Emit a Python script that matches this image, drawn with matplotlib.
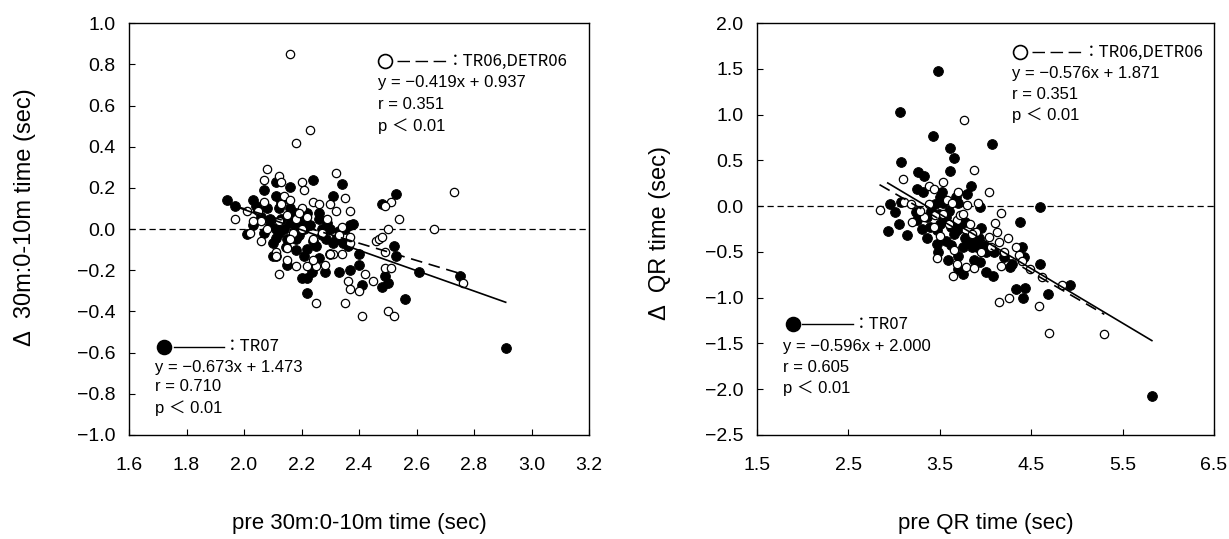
import matplotlib.pyplot as plt
import numpy as np

# ---- data ----
# left panel: pre 30m:0-10m time vs change
left_tr06_x = [2.16, 2.23, 2.18, 2.08, 2.07, 2.12, 2.13, 2.20, 2.21, 2.32, 2.35, 2.30, 2.24, 2.14,
               2.16, 2.20, 2.32, 2.37, 2.07, 2.01, 1.97, 2.06, 2.06, 2.11, 2.12, 2.18, 2.22, 2.25,
               2.28, 2.25, 2.35, 2.36, 2.37, 2.40, 2.42, 2.41, 2.45, 2.50, 2.52, 2.49, 2.51, 2.49,
               2.46, 2.47, 2.48, 2.50, 2.54, 2.51, 2.49, 2.73, 2.66, 2.76, 2.37, 2.37, 2.31, 2.34,
               2.30, 2.24, 2.15, 2.11, 2.03, 2.02, 2.20, 2.24, 2.27, 2.34, 2.17, 2.16, 2.18, 2.15,
               2.13, 2.05, 2.12, 2.19, 2.26, 2.29, 2.33, 2.22, 2.08, 2.15]
left_tr06_y = [0.85, 0.48, 0.42, 0.29, 0.24, 0.26, 0.23, 0.23, 0.19, 0.27, 0.15, 0.12, 0.13, 0.16,
               0.14, 0.10, 0.09, 0.09, 0.13, 0.09, 0.05, 0.04, -0.06, -0.11, -0.22, -0.18, -0.18, -0.18,
               -0.175, -0.36, -0.36, -0.25, -0.29, -0.30, -0.22, -0.42, -0.25, -0.40, -0.42, -0.19, -0.19, -0.11,
               -0.06, -0.05, -0.04, 0.0, 0.05, 0.13, 0.11, 0.18, 0.0, -0.26, -0.07, -0.04, -0.12, -0.12,
               -0.12, -0.15, -0.15, -0.13, 0.04, -0.02, 0.0, -0.05, -0.02, 0.01, -0.02, -0.05, 0.05, 0.07,
               0.12, 0.09, 0.04, 0.08, 0.12, 0.05, -0.03, 0.06, 0.0, -0.09]
left_tr07_x = [1.94, 1.97, 2.03, 2.04, 2.05, 2.01, 2.03, 2.07, 2.11, 2.16, 2.24, 2.34, 2.31, 2.11,
               2.08, 2.12, 2.16, 2.18, 2.22, 2.26, 2.26, 2.09, 2.13, 2.16, 2.18, 2.21, 2.27, 2.30,
               2.33, 2.37, 2.38, 2.07, 2.11, 2.11, 2.145, 2.18, 2.22, 2.25, 2.285, 2.32, 2.345, 2.36,
               2.30, 2.40, 2.40, 2.41, 2.37, 2.33, 2.28, 2.235, 2.20, 2.22, 2.22, 2.15, 2.10, 2.11,
               2.48, 2.53, 2.52, 2.53, 2.49, 2.50, 2.48, 2.56, 2.61, 2.75, 2.91,
               2.09, 2.12, 2.14, 2.17, 2.19, 2.20, 2.23, 2.24, 2.27, 2.29, 2.13, 2.15, 2.06, 2.10,
               2.18, 2.31, 2.35, 2.21, 2.26]
left_tr07_y = [0.14, 0.11, 0.14, 0.11, 0.095, -0.025, 0.02, 0.19, 0.23, 0.205, 0.24, 0.22, 0.16, 0.16,
               0.10, 0.10, 0.10, 0.08, 0.08, 0.08, 0.05, 0.05, 0.05, 0.03, 0.01, 0.0, 0.0, 0.0,
               -0.01, 0.02, 0.025, -0.02, 0.0, -0.045, -0.085, -0.05, -0.095, -0.08, -0.05, -0.05, -0.07, -0.08,
               -0.12, -0.12, -0.175, -0.27, -0.20, -0.21, -0.21, -0.21, -0.24, -0.24, -0.31, -0.175, -0.13, -0.13,
               0.12, 0.17, -0.08, -0.13, -0.23, -0.26, -0.28, -0.34, -0.21, -0.23, -0.58,
               0.02, -0.02, 0.0, 0.06, -0.03, 0.04, 0.02, -0.06, -0.03, 0.03, 0.13, -0.05, 0.06, -0.07,
               -0.10, -0.07, 0.0, -0.13, -0.14]

# right panel: pre QR time vs change
right_tr06_x = [3.76, 3.87, 3.10, 3.54, 3.38, 3.44, 4.04, 2.84, 3.11, 3.18, 3.38, 3.58, 3.63, 3.80,
                3.92, 4.17, 3.19, 3.44, 3.69, 3.83, 4.13, 4.04, 4.15, 4.33, 4.20, 4.37, 3.47, 3.69,
                3.79, 3.87, 3.64, 4.17, 4.49, 4.62, 4.84, 4.15, 4.26, 4.59, 4.69, 5.30, 3.33, 3.54,
                3.72, 3.90, 4.06, 3.45, 3.60, 3.75, 3.85, 3.95, 3.65, 3.50, 3.28, 3.70, 4.10, 4.25, 4.40]
right_tr06_y = [0.94, 0.40, 0.30, 0.26, 0.22, 0.19, 0.16, -0.04, 0.05, 0.02, 0.02, 0.07, 0.03, 0.01,
                0.03, -0.07, -0.17, -0.23, -0.15, -0.20, -0.28, -0.34, -0.39, -0.45, -0.50, -0.53, -0.57, -0.63,
                -0.66, -0.68, -0.76, -0.65, -0.69, -0.77, -0.86, -1.05, -1.00, -1.09, -1.39, -1.40, -0.12, -0.08,
                -0.10, -0.28, -0.45, -0.10, -0.20, -0.08, -0.30, -0.50, -0.48, -0.33, -0.05, 0.15, -0.18, -0.35, -0.60]
right_tr07_x = [3.48, 3.06, 3.42, 3.61, 3.65, 4.07, 3.07, 3.61, 3.26, 3.33, 3.84, 3.80, 3.25, 3.32,
                3.50, 3.54, 3.70, 3.94, 4.60, 2.96, 3.07, 3.01, 3.05, 2.93, 3.14, 3.24, 3.25, 3.36,
                3.39, 3.36, 3.47, 3.49, 3.57, 3.62, 3.69, 3.78, 3.87, 3.95, 3.47, 3.57, 3.48, 3.59,
                3.70, 3.75, 3.84, 3.91, 3.98, 4.00, 4.09, 4.20, 3.87, 3.94, 3.70, 3.75, 4.00, 4.08,
                4.27, 4.29, 4.38, 4.40, 4.42, 4.60, 4.33, 4.43, 4.41, 4.68, 4.92, 5.82,
                3.55, 3.60, 3.65, 3.72, 3.50, 3.40, 3.30, 3.78, 3.85, 3.93, 3.62, 3.45, 3.52, 3.68]
right_tr07_y = [1.48, 1.03, 0.77, 0.64, 0.53, 0.675, 0.48, 0.39, 0.37, 0.33, 0.22, 0.13, 0.19, 0.16,
                0.10, 0.03, 0.04, -0.01, -0.01, 0.02, 0.05, -0.06, -0.19, -0.27, -0.32, -0.06, -0.15, -0.12,
                -0.23, -0.35, -0.26, -0.08, -0.12, -0.23, -0.26, -0.17, -0.29, -0.24, -0.41, -0.38, -0.50, -0.59,
                -0.54, -0.45, -0.39, -0.45, -0.43, -0.50, -0.50, -0.55, -0.59, -0.61, -0.69, -0.74, -0.72, -0.76,
                -0.66, -0.63, -0.17, -0.45, -0.55, -0.63, -0.91, -0.89, -1.00, -0.96, -0.86, -2.07,
                -0.15, -0.05, -0.30, -0.20, -0.20, -0.05, -0.25, -0.35, -0.45, -0.35, -0.42, 0.02, 0.15, 0.10]

# regression lines: slope, intercept, x start, x end (as drawn)
left_tr06_fit = [-0.419, 0.937, 1.97, 2.77]
left_tr07_fit = [-0.495, 1.085, 1.95, 2.91]
right_tr06_fit = [-0.576, 1.871, 2.84, 5.30]
right_tr07_fit = [-0.596, 2.000, 2.93, 5.82]

left_xticks = [1.6, 1.8, 2.0, 2.2, 2.4, 2.6, 2.8, 3.0, 3.2]
left_yticks = [1.0, 0.8, 0.6, 0.4, 0.2, 0.0, -0.2, -0.4, -0.6, -0.8, -1.0]
right_xticks = [1.5, 2.5, 3.5, 4.5, 5.5, 6.5]
right_yticks = [2.0, 1.5, 1.0, 0.5, 0.0, -0.5, -1.0, -1.5, -2.0, -2.5]

left_tr06_text = ['y = \u22120.419x + 0.937', 'r = 0.351', 'p \uff1c 0.01']
left_tr07_text = ['y = \u22120.673x + 1.473', 'r = 0.710', 'p \uff1c 0.01']
right_tr06_text = ['y = \u22120.576x + 1.871', 'r = 0.351', 'p \uff1c 0.01']
right_tr07_text = ['y = \u22120.596x + 2.000', 'r = 0.605', 'p \uff1c 0.01']

plt.rcParams['font.family'] = ['Liberation Sans', 'Noto Sans CJK JP', 'DejaVu Sans']
plt.rcParams['axes.unicode_minus'] = True

fig = plt.figure(figsize=(12.29, 5.39), dpi=100)
ax1 = fig.add_axes([0.105, 0.193, 0.3743, 0.764])
ax2 = fig.add_axes([0.616, 0.193, 0.3718, 0.764])


def fmt(v):
    return ('%.1f' % v).replace('-', '\u2212')


def draw_panel(ax, x06, y06, x07, y07, fit06, fit07, xlim, ylim, xticks, yticks):
    ax.axhline(0, color='black', lw=0.9, ls=(0, (5, 3)), zorder=1)
    ax.scatter(x07, y07, s=50, c='black', edgecolors='black', linewidths=0.6, zorder=2)
    ax.scatter(x06, y06, s=36, c='white', edgecolors='black', linewidths=0.9, zorder=3)
    xs = np.array(fit07[2:])
    ax.plot(xs, fit07[0] * xs + fit07[1], color='black', lw=1.2, zorder=4)
    xs = np.array(fit06[2:])
    ax.plot(xs, fit06[0] * xs + fit06[1], color='black', lw=1.2, ls=(0, (7, 4)), zorder=4)
    ax.set_xlim(xlim)
    ax.set_ylim(ylim)
    ax.set_xticks(xticks)
    ax.set_xticklabels([fmt(v) for v in xticks])
    ax.set_yticks(yticks)
    ax.set_yticklabels([fmt(v) for v in yticks])
    ax.tick_params(direction='in', length=4, width=0.8, labelsize=14)
    ax.tick_params(axis='x', pad=16)
    ax.tick_params(axis='y', pad=10)
    for sp in ax.spines.values():
        sp.set_linewidth(1.0)


def draw_key(ax, cx, cy, x0, x1, filled, label, lines, tx, ty):
    # marker + line sample + label, then the equation block
    ls = '-' if filled else (0, (9, 4))
    ax.plot([x0, x1], [cy, cy], color='black', lw=1.0, ls=ls, transform=ax.transAxes, clip_on=False)
    ax.plot([cx], [cy], marker='o', ms=10, mfc='black' if filled else 'white', mec='black', mew=1.2,
            transform=ax.transAxes, clip_on=False)
    ax.text(x1, cy, '\uff1a' + label, transform=ax.transAxes, fontsize=12, va='center', ha='left',
            family=['Noto Sans CJK JP', 'DejaVu Sans'])
    for i, t in enumerate(lines):
        ax.text(tx, ty[i], t, transform=ax.transAxes, fontsize=12, va='center', ha='left')


draw_panel(ax1, left_tr06_x, left_tr06_y, left_tr07_x, left_tr07_y, left_tr06_fit, left_tr07_fit,
           (1.6, 3.2), (-1.0, 1.0), left_xticks, left_yticks)
draw_panel(ax2, right_tr06_x, right_tr06_y, right_tr07_x, right_tr07_y, right_tr06_fit, right_tr07_fit,
           (1.5, 6.5), (-2.5, 2.0), right_xticks, right_yticks)

draw_key(ax1, 0.557, 0.908, 0.583, 0.692, False, 'TR06,DETR06', left_tr06_text, 0.541, [0.857, 0.803, 0.750])
draw_key(ax1, 0.076, 0.214, 0.098, 0.207, True, 'TR07', left_tr07_text, 0.0565, [0.163, 0.117, 0.066])
draw_key(ax2, 0.576, 0.930, 0.602, 0.712, False, 'TR06,DETR06', right_tr06_text, 0.559, [0.879, 0.828, 0.777])
draw_key(ax2, 0.078, 0.269, 0.098, 0.209, True, 'TR07', right_tr07_text, 0.0565, [0.214, 0.163, 0.114])

ax1.set_xlabel('pre 30m:0-10m time (sec)', fontsize=16)
ax1.set_ylabel('\u0394  30m:0-10m time (sec)', fontsize=17)
ax1.xaxis.set_label_coords(0.5, -0.216)
ax1.yaxis.set_label_coords(-0.226, 0.53)
ax2.set_xlabel('pre QR time (sec)', fontsize=16)
ax2.set_ylabel('\u0394  QR time (sec)', fontsize=17)
ax2.xaxis.set_label_coords(0.5, -0.216)
ax2.yaxis.set_label_coords(-0.213, 0.49)
for a in (ax1, ax2):
    a.xaxis.label.set_va('center')
    a.yaxis.label.set_va('center')

fig.savefig('out.png', dpi=100)
